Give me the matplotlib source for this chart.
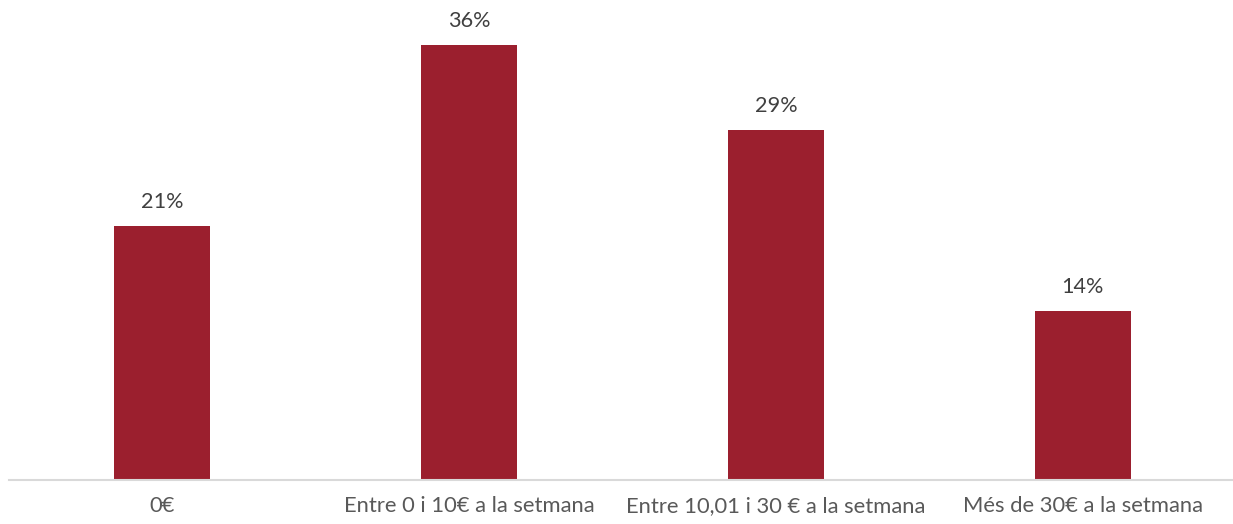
import matplotlib.pyplot as plt
import numpy as np

plt.rcParams['font.family'] = ['Lato', 'DejaVu Sans']

categorias = ['0€', 'Entre 0 i 10€ a la setmana', 'Entre 10,01 i 30 € a la setmana', 'Més de 30€ a la setmana']
percentatges = [21, 36, 29, 14]

fig = plt.figure(figsize=(12.33, 5.24), dpi=100)
ax = fig.add_axes([9 / 1233, 44 / 524, 1227 / 1233, 480 / 524])

x = np.arange(len(categorias))
barres = ax.bar(x, percentatges, width=0.313, color='#9B1F2E')

# etiquetes de valor sobre cada barra
for xi, v in zip(x, percentatges):
    ax.annotate(f'{v}%', (xi, v), xytext=(0, 10), textcoords='offset points',
                ha='center', va='bottom', fontsize=15.6, color='#404040')

ax.set_xlim(-0.5, 3.5)
ax.set_ylim(0, 39.73)
ax.set_yticks([])
ax.set_xticks(x)
ax.set_xticklabels(categorias, fontsize=15.8, color='#595959')
ax.tick_params(axis='x', length=0, pad=11.5)

for s in ['top', 'right', 'left']:
    ax.spines[s].set_visible(False)
ax.spines['bottom'].set_color('#D9D9D9')
ax.spines['bottom'].set_linewidth(1.5)

plt.savefig('out.png', dpi=100)
